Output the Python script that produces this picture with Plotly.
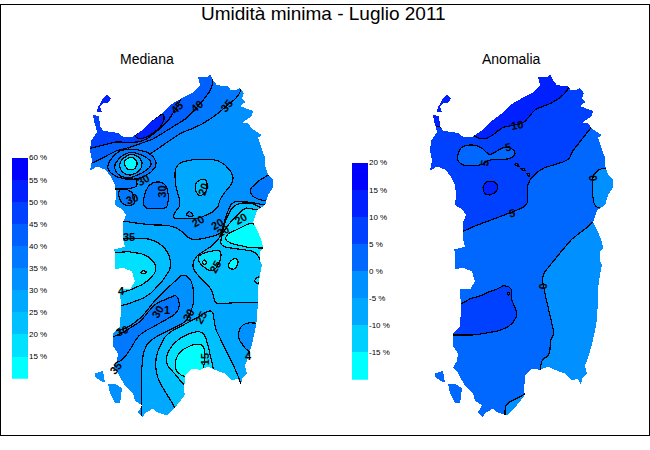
import math
import plotly.graph_objects as go

def N(*p): return [(85 + x / 3, 60 + y / 3) for x, y in p]
def S(*p): return [(85 + x / 3, 230 + y / 3) for x, y in p]

TITLE = "Umidità minima - Luglio 2011"
PANELS = ["Mediana", "Anomalia"]

MED_LEVELS = [55, 50, 45, 40, 35, 30, 25, 20, 15, 10]
MED_COLORS = ["#0000ff", "#0020ff", "#0040ff", "#0060ff", "#0078ff", "#0090ff", "#00a8ff", "#00c0ff", "#00e0ff", "#00ffff"]
MED_TICKS = [60, 55, 50, 45, 40, 35, 30, 25, 20, 15]
ANO_LEVELS = [15, 10, 5, 0, -5, -10, -15, -20]
ANO_COLORS = ["#0000ff", "#0020ff", "#0040ff", "#0068ff", "#0090ff", "#00a8ff", "#00d0ff", "#00ffff"]
ANO_TICKS = [20, 15, 10, 5, 0, -5, -10, -15]

COAST = [(90,168),(92,158),(90,148),(91,138),(97,129),(94,118),(93,112),(99,113),(100,123),(103,128),(118,130),(123,134),(133,134),(135,132),(143,127),(153,117),(165,108),(170,102),(182,95),(192,90),(200,82),(198,74),(207,74),(210,71),(213,77),(217,82),(228,83),(231,87),(235,87),(240,85),(244,90),(242,95),(245,99),(240,103),(245,105),(253,108),(252,113),(242,120),(248,120),(251,125),(258,130),(262,132),(258,135),(262,147),(265,155),(265,163),(268,172),(273,177),(273,185),(268,193),(265,203),(257,208),(253,220),(258,230),(262,240),(263,247),(260,250),(260,260),(262,263),(260,273),(258,287),(258,297),(257,318),(255,330),(252,343),(248,357),(245,365),(247,373),(242,378),(241,384),(238,378),(232,380),(225,373),(217,370),(208,366),(200,369),(192,368),(185,375),(184,392),(186,392),(183,397),(175,407),(167,415),(157,412),(153,408),(145,413),(143,417),(138,412),(142,405),(135,400),(133,393),(125,385),(122,380),(118,372),(113,367),(117,360),(118,353),(113,345),(113,333),(120,325),(121,307),(120,288),(125,288),(130,288),(135,280),(132,270),(123,266),(115,268),(115,250),(113,248),(125,245),(123,237),(123,233),(123,220),(126,213),(122,207),(115,203),(116,192),(115,183),(110,173),(105,167),(97,164)]
ASINARA = [(103,95),(107,91),(111,95),(108,100),(103,100),(100,103),(102,109),(97,109),(98,103),(100,101)]
ANTIOCO = [(108,383),(115,383),(122,388),(120,403),(115,403),(110,393)]
PIETRO = [(95,373),(103,370),(105,382),(100,380),(95,376)]

MED_BASE = 25
MED_BANDS = [
 (30, N((-15,-15),(615,-15),(615,420),(540,430),(500,420),(445,415),(430,440),(415,490),(410,515),(360,530),(315,535),(295,510),(260,490),(180,488),(115,475),(-15,470))),
 (25, N((270,305),(320,290),(400,290),(440,325),(447,360),(405,405),(400,440),(345,470),(300,470),(265,470),(265,455),(290,430),(270,370))),
 (20, N((345,350),(365,350),(368,385),(345,405),(330,385),(330,365))),
 (30, N((298,460),(315,445),(330,465))),
 (35, N((180,440),(172,415),(190,365),(225,355),(250,375),(250,440),(210,440))),
 (35, N((95,382),(130,380),(150,400),(150,430),(110,430))),
 (35, N((490,385),(515,360),(550,335),(615,330),(560,420),(510,410))),
 (35, N((-15,-15),(470,-15),(470,90),(425,130),(375,170),(330,195),(290,208),(245,240),(200,270),(190,275),(215,305),(190,330),(150,350),(160,370),(135,380),(95,380),(-15,380))),
 (40, N((-15,-15),(385,-15),(385,65),(365,100),(337,130),(310,165),(260,190),(215,225),(175,240),(150,250),(130,255),(95,262),(60,285),(20,302),(-15,310))),
 (35, N((60,318),(90,270),(130,256),(195,268),(220,305),(190,338),(150,352),(100,348))),
 (30, N((85,305),(125,265),(180,278),(205,305),(175,332),(125,350),(95,335))),
 (20, N((100,300),(135,270),(172,288),(170,322),(135,342),(108,328))),
 (10, N((115,295),(138,280),(160,298),(150,322),(125,322))),
 (45, N((-15,-15),(290,-15),(290,105),(275,135),(245,180),(205,215),(175,235),(145,240),(100,235),(60,245),(10,260),(-15,262))),
 (50, N((145,222),(170,230),(200,215),(235,185),(240,145),(175,190))),
 (50, N((-15,-15),(90,-15),(90,150),(-15,150))),
 (20, S((-15,15),(200,20),(245,50),(262,100),(240,140),(190,195),(110,225),(-15,240))),
 (15, S((-15,70),(130,58),(190,70),(220,110),(190,150),(130,180),(-15,200))),
 (10, S((165,122),(175,115),(187,122),(175,128))),
 (30, S((292,125),(322,145),(328,215),(312,255),(300,275),(240,300),(180,340),(170,400),(170,615),(-15,615),(-15,320),(120,295),(170,260),(210,205),(270,150))),
 (35, S((-15,330),(85,320),(130,295),(170,270),(205,220),(240,205),(278,185),(286,240),(220,280),(160,310),(135,360),(100,400),(-15,400))),
 (20, S((210,380),(240,310),(310,275),(385,230),(385,280),(460,435),(470,470),(300,615),(270,530),(250,500),(215,440))),
 (15, S((240,400),(250,355),(290,315),(355,295),(375,365),(390,440),(300,470),(280,440))),
 (10, S((268,400),(280,365),(320,340),(360,340),(360,400),(345,440),(300,440),(275,425))),
 (30, S((470,275),(530,275),(530,370),(495,370),(455,320))),
 (20, S((390,220),(385,185),(370,160),(335,130),(320,100),(335,70),(380,45),(410,10))+N((415,490),(445,425),(500,420),(540,445),(615,445))+S((615,212),(510,212),(430,215))),
 (15, S((405,45),(500,55),(520,70),(530,100),(615,100))+N((615,460),(510,440),(480,435),(450,465),(420,500))+S((410,10))),
 (10, N((465,500),(495,480),(615,520))+S((615,50),(500,50),(420,30),(425,5))),
 (15, S((335,70),(405,50),(410,80),(385,125),(345,100))),
 (10, S((350,92),(358,82),(366,92),(358,102))),
 (10, S((430,95),(450,75),(462,90),(450,115),(430,110))),
 (15, S((505,150),(522,130),(525,160))),
]

ANO_BASE = 0
ANO_BANDS = [
 (5, N((-15,-15),(615,-15),(615,150),(507,180),(495,200),(440,265),(435,293),(370,310),(340,325),(310,355),(305,390),(310,430),(260,450),(200,475),(150,490),(115,510),(-15,515))),
 (5, S((110,220),(135,200),(160,198),(185,183),(215,175),(235,160),(258,168),(260,185),(258,205),(278,240),(270,270),(240,295),(160,312),(-15,312),(-15,220))),
 (-5, N((615,460),(507,473),(490,495),(445,525))+S((400,70),(350,130),(355,165),(370,230),(390,310),(375,325),(375,375),(350,385),(345,420),(345,500),(615,615))),
 (-5, S((240,555),(240,525),(260,510),(295,495),(305,480),(320,480),(320,615),(240,615))),
 (-5, N((545,315),(520,320),(500,345),(503,415),(515,440),(615,440),(615,315))),
 (0, N((97,280),(105,255),(130,245),(165,250),(185,270),(195,280),(235,250),(270,260),(270,280),(245,292),(195,288),(170,310),(115,310),(97,295))),
 (10, N((172,375),(185,355),(215,358),(220,385),(195,400),(178,395))),
 (10, N((-15,-15),(435,-15),(435,78),(385,120),(330,135),(300,180),(265,187),(235,190),(185,232),(146,222),(140,200),(50,195),(45,190),(30,190),(-15,190))),
 (0, N((265,305),(278,302),(285,315))),
 (0, N((285,318),(298,315),(302,328))),
 (0, N((303,333),(315,332),(315,345))),
 (0, S((245,187),(250,181),(256,187),(250,192))),
]

MED_LABELS = [("45",N((275,135)),-45),("40",N((337,130)),-40),("35",N((425,130)),-50),("30",N((175,352)),-30),("30",N((232,387)),-90),("30",N((140,410)),-20),("20",N((355,380)),-70),("20",N((340,478)),-30),("20",N((397,485)),-30),("20",N((414,507)),-30),("20",N((467,472)),-30),("35",N((133,525)),0),("25",S((390,105)),-60),("30",S((218,243)),-60),("30",S((310,250)),-60),("30",S((110,300)),-20),("25",S((347,260)),-60),("15",S((360,385)),-90),("35",S((93,413)),-50),("4",S((490,375)),0),("1",S((245,237)),0),("4",S((110,180)),0)]
ANO_LABELS = [("10",N((277,185)),-10),("5",N((250,252)),-10),("5",N((178,300)),-80),("5",N((262,452)),-10),("0",N((502,348)),90),("0",S((352,165)),90)]

BARS = {"left": (MED_LEVELS, MED_COLORS, MED_TICKS), "right": (ANO_LEVELS, ANO_COLORS, ANO_TICKS)}

fig = go.Figure()
color_med = dict(zip(MED_LEVELS, MED_COLORS))
color_ano = dict(zip(ANO_LEVELS, ANO_COLORS))
XMIN, XMAX, YMIN, YMAX = 80, 290, 46, 433

def round_corners(points, rounds=3, max_cut=5.0):
    for _ in range(rounds):
        out = []
        n = len(points)
        for i in range(n):
            (x0, y0), (x1, y1) = points[i], points[(i + 1) % n]
            d = math.hypot(x1 - x0, y1 - y0) or 1.0
            t = min(0.25, max_cut / d)
            out.append((x0 + (x1 - x0) * t, y0 + (y1 - y0) * t))
            out.append((x1 - (x1 - x0) * t, y1 - (y1 - y0) * t))
        points = out
        max_cut *= 0.5
    return points

def poly(points, color, xa, width=1.2):
    points = round_corners(points)
    xs = [max(XMIN + 2, min(XMAX - 2, p[0])) for p in points]
    ys = [max(YMIN + 2, min(YMAX - 2, p[1])) for p in points]
    fig.add_trace(go.Scatter(x=xs + xs[:1], y=ys + ys[:1], xaxis=xa, yaxis="y", mode="lines", fill="toself", fillcolor=color,
                             line=dict(color="black", width=width), hoverinfo="skip", showlegend=False))

def mask(xa):
    rect = [(XMIN, YMIN), (XMIN, YMAX), (XMAX, YMAX), (XMAX, YMIN)]
    xs, ys = [], []
    for ring in (rect, COAST, ASINARA, ANTIOCO, PIETRO):
        xs += [p[0] for p in ring] + [ring[0][0], None]
        ys += [p[1] for p in ring] + [ring[0][1], None]
    fig.add_trace(go.Scatter(x=xs, y=ys, xaxis=xa, yaxis="y", mode="none", fill="toself", fillcolor="white",
                             hoverinfo="skip", showlegend=False))

for xa, base, bands, cmap in (("x", MED_BASE, MED_BANDS, color_med), ("x2", ANO_BASE, ANO_BANDS, color_ano)):
    rect = [(XMIN, YMIN), (XMIN, YMAX), (XMAX, YMAX), (XMAX, YMIN), (XMIN, YMIN)]
    fig.add_trace(go.Scatter(x=[p[0] for p in rect], y=[p[1] for p in rect], xaxis=xa, yaxis="y", mode="none", fill="toself",
                             fillcolor=cmap[base], hoverinfo="skip", showlegend=False))
    for lev, pts in bands:
        poly(pts, cmap[lev], xa)
    mask(xa)

for xa, ya, (levels, colors, ticks) in (("x3", "y3", BARS["left"]), ("x4", "y4", BARS["right"])):
    fig.add_trace(go.Bar(x=[0] * len(levels), y=[5] * len(levels), base=levels, width=1, marker=dict(color=colors, line_width=0),
                         xaxis=xa, yaxis=ya, hoverinfo="skip", showlegend=False))

ann = [dict(text=TITLE, x=323, y=10, xref="x", yref="y", showarrow=False, font=dict(family="Liberation Sans", size=19, color="black")),
       dict(text=PANELS[0], x=147, y=55, xref="x", yref="y", showarrow=False, font=dict(family="Liberation Sans", size=14, color="black")),
       dict(text=PANELS[1], x=511, y=55, xref="x", yref="y", showarrow=False, font=dict(family="Liberation Sans", size=14, color="black"))]
for labels, dx in ((MED_LABELS, 0), (ANO_LABELS, 340)):
    for t, pts, ang in labels:
        ann.append(dict(text=t, x=pts[0][0] + dx, y=pts[0][1], xref="x", yref="y", showarrow=False, textangle=ang,
                        font=dict(family="Liberation Sans", size=11, color="black", weight="bold")))

hidden = dict(visible=False, fixedrange=True)
tick = dict(family="Liberation Sans", size=8, color="black")
fig.update_layout(
    width=650, height=450, margin=dict(l=0, r=0, t=0, b=0), paper_bgcolor="white", plot_bgcolor="rgba(0,0,0,0)",
    barmode="overlay", annotations=ann,
    xaxis=dict(hidden, range=[0, 650], domain=[0, 1]),
    xaxis2=dict(hidden, range=[-340, 310], domain=[0, 1], overlaying="x", anchor="y"),
    yaxis=dict(hidden, range=[450, 0], domain=[0, 1]),
    xaxis3=dict(hidden, range=[-0.5, 0.5], domain=[12 / 650, 28 / 650], anchor="y3"),
    yaxis3=dict(range=[10, 60], domain=[(450 - 378) / 450, (450 - 155) / 450], anchor="x3", side="right", tickmode="array", tickvals=MED_TICKS,
                ticktext=[f"{v} %" for v in MED_TICKS], showgrid=False, zeroline=False, showline=False, ticks="", tickfont=tick),
    xaxis4=dict(hidden, range=[-0.5, 0.5], domain=[352 / 650, 368 / 650], anchor="y4"),
    yaxis4=dict(range=[-20, 20], domain=[(450 - 379) / 450, (450 - 160) / 450], anchor="x4", side="right", tickmode="array", tickvals=ANO_TICKS,
                ticktext=[f"{v} %" for v in ANO_TICKS], showgrid=False, zeroline=False, showline=False, ticks="", tickfont=tick),
    shapes=[dict(type="rect", xref="x", yref="y", x0=0.5, y0=0.5, x1=649, y1=435, line=dict(color="black", width=1))],
)
fig.write_html("out.html", config=dict(displayModeBar=False),
               post_script="document.body.style.margin='0';document.querySelectorAll('.main-svg').forEach(function(s){s.setAttribute('shape-rendering','crispEdges');});")
